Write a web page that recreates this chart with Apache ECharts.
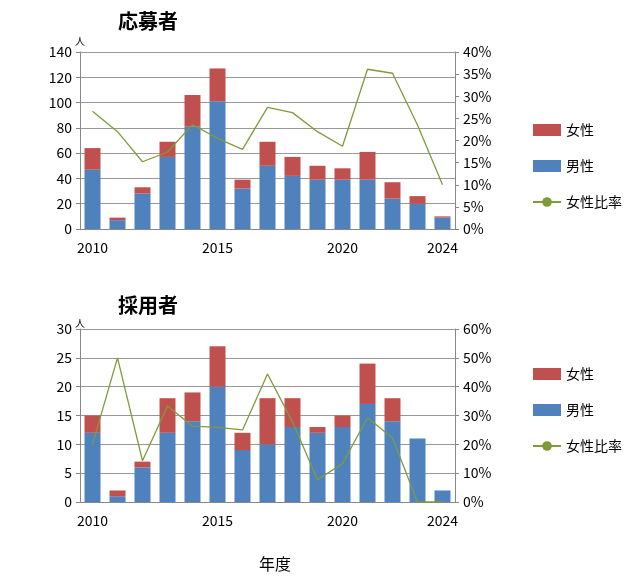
<!DOCTYPE html><html><head><meta charset="utf-8"><script src="https://cdn.jsdelivr.net/npm/echarts@6/dist/echarts.min.js"></script></head><body style="margin:0"><div id="c" style="width:640px;height:577px"></div><script>
const years=['2010','2011','2012','2013','2014','2015','2016','2017','2018','2019','2020','2021','2022','2023','2024'];
const shownYears=['2010','2015','2020','2024'];
const appMale=[47,7,28,57,81,101,32,50,42,39,39,39,24,20,9];
const appFemale=[17,2,5,12,25,26,7,19,15,11,9,22,13,6,1];
const appRatio=[26.6,22,15.2,17.4,23.6,20.5,18,27.5,26.3,22,18.7,36.1,35.2,23.5,10];
const hireMale=[12,1,6,12,14,20,9,10,13,12,13,17,14,11,2];
const hireFemale=[3,1,1,6,5,7,3,8,5,1,2,7,4,0,0];
const hireRatio=[20,50,14.3,33.3,26.3,25.9,25,44.4,27.8,7.7,13.3,29.2,22.2,0,0];
const F='"Noto Sans CJK JP","Noto Sans",sans-serif';
const red='#c0504d',blue='#4f81bd',green='#7f9b3a';
function xa(i){return {type:'category',gridIndex:i,data:years,axisTick:{show:false},axisLine:{lineStyle:{color:'#888'}},
 axisLabel:{interval:0,color:'#000',fontSize:14,fontFamily:F,margin:12,formatter:v=>shownYears.includes(v)?v:''}};}
function yl(i,max,int){return {type:'value',gridIndex:i,min:0,max:max,interval:int,axisLine:{show:true,lineStyle:{color:'#888'}},axisTick:{show:true,length:4,lineStyle:{color:'#888'}},
 splitLine:{lineStyle:{color:'#999'}},axisLabel:{color:'#000',fontSize:14,fontFamily:F}};}
function yr(i,max,int){return {type:'value',gridIndex:i,position:'right',min:0,max:max,interval:int,axisLine:{show:true,lineStyle:{color:'#888'}},axisTick:{show:true,length:4,lineStyle:{color:'#888'}},
 splitLine:{show:false},axisLabel:{color:'#000',fontSize:14,fontFamily:F,formatter:'{value}%'}};}
function bars(i,m,f,r){return [
 {name:'男性',type:'bar',stack:'s'+i,xAxisIndex:i,yAxisIndex:i*2,data:m,itemStyle:{color:blue},barCategoryGap:'36%'},
 {name:'女性',type:'bar',stack:'s'+i,xAxisIndex:i,yAxisIndex:i*2,data:f,itemStyle:{color:red}},
 {name:'女性比率',type:'line',xAxisIndex:i,yAxisIndex:i*2+1,data:r,symbol:'none',lineStyle:{color:green,width:1.3},itemStyle:{color:green}}];}
function lg(top){return {orient:'vertical',left:527,top:top,itemGap:22,itemWidth:28,itemHeight:12,textStyle:{fontSize:14,fontFamily:F,color:'#000'},
 data:[{name:'女性',icon:'rect'},{name:'男性',icon:'rect'},{name:'女性比率'}]};}
const chart=echarts.init(document.getElementById('c'));
chart.setOption({animation:false,
 title:[{text:'応募者',left:113,top:6,textStyle:{fontSize:20,fontWeight:'bold',fontFamily:F,color:'#000'}},
        {text:'採用者',left:113,top:290,textStyle:{fontSize:20,fontWeight:'bold',fontFamily:F,color:'#000'}},
        {text:'年度',left:254,top:551,textStyle:{fontSize:16,fontWeight:'normal',fontFamily:F,color:'#000'}},
        {text:'人',left:70,top:31,textStyle:{fontSize:10,fontWeight:'normal',fontFamily:F,color:'#000'}},
        {text:'人',left:70,top:313,textStyle:{fontSize:10,fontWeight:'normal',fontFamily:F,color:'#000'}}],
 legend:[Object.assign(lg(118),{}),Object.assign(lg(362),{})],
 grid:[{left:80,width:375,top:52,height:177},{left:80,width:375,top:329,height:173}],
 xAxis:[xa(0),xa(1)],
 yAxis:[yl(0,140,20),yr(0,40,5),yl(1,30,5),yr(1,60,10)],
 series:[...bars(0,appMale,appFemale,appRatio),...bars(1,hireMale,hireFemale,hireRatio)]
});
</script></body></html>
